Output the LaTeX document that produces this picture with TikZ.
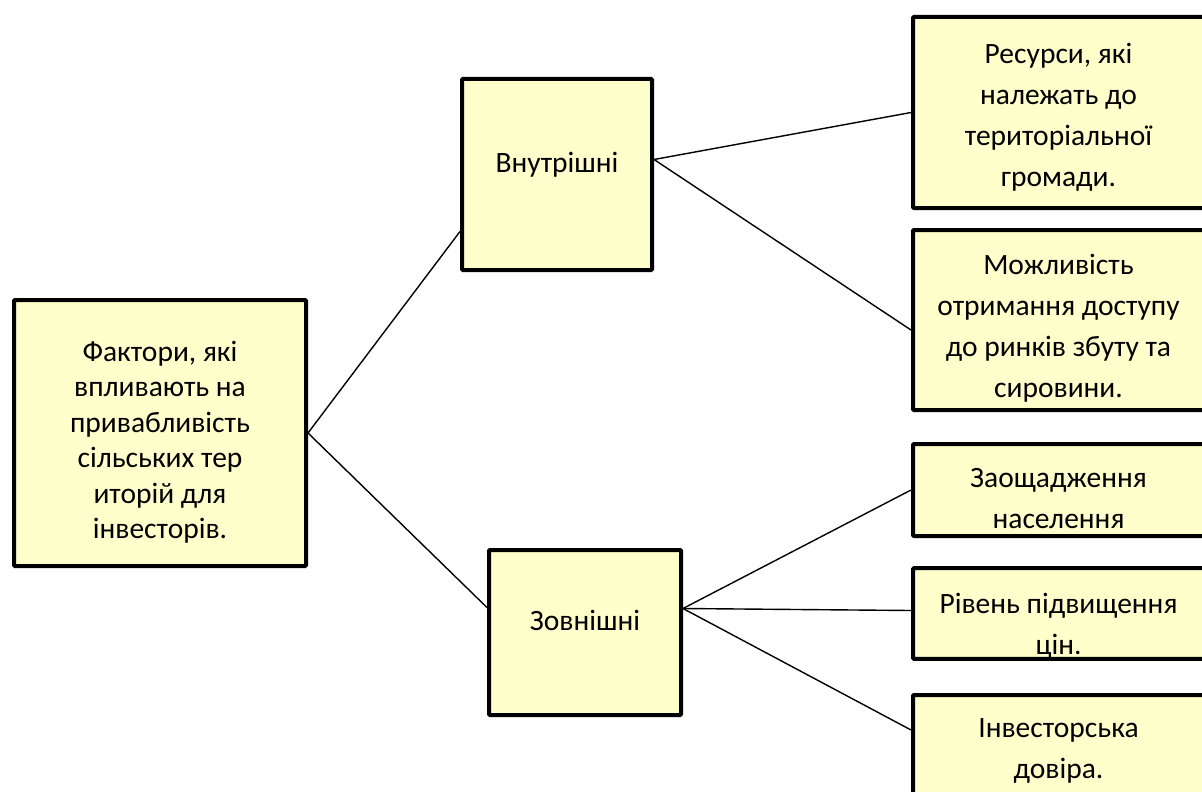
\documentclass[tikz,border=0pt]{standalone}
\usepackage{fontspec}
\setmainfont{Carlito}
\usepackage{xcolor}
\usetikzlibrary{positioning}

\definecolor{boxfill}{HTML}{FFFFCC}
\newcommand{\topgap}[1]{\rule{0pt}{#1}}

\tikzset{
    factor/.style={draw, line width=4pt, rounded corners=1pt, fill=boxfill, align=center, inner sep=0pt, font=\fontsize{29.5}{41}\selectfont},
    link/.style={line width=1.4pt}
}

\begin{document}
\begin{tikzpicture}[x=1pt, y=-1pt]
    \useasboundingbox (0,0) rectangle (1202,792);

    % Main factor
    \node[factor, minimum width=292pt, minimum height=266pt, font=\fontsize{29.5}{35.5}\selectfont] (factors) at (160,433)
        {\topgap{39pt}Фактори, які\\впливають на\\привабливість\\сільських тер\\иторій для\\інвесторів.};

    % Groups
    \node[factor, minimum width=190pt, minimum height=191pt, text depth=24pt] (internal) at (557,174.5) {Внутрішні};
    \node[factor, minimum width=192pt, minimum height=165pt, text depth=24pt] (external) at (585,632.5) {Зовнішні};

    % Internal
    \node[factor, minimum width=291pt, minimum height=191pt] (resources) at (1058.5,112.5)
        {\topgap{29pt}Ресурси, які\\належать до\\територіальної\\громади.};
    \node[factor, minimum width=291pt, minimum height=180pt] (markets) at (1058.5,320)
        {\topgap{37pt}Можливість\\отримання доступу\\до ринків збуту та\\сировини.};

    % External
    \node[factor, minimum width=291pt, minimum height=92pt] (savings) at (1058.5,490) {\topgap{37pt}Заощадження\\населення};
    \node[factor, minimum width=291pt, minimum height=89pt] (prices) at (1058.5,613.5) {\topgap{45pt}Рівень підвищення\\цін.};
    \node[factor, minimum width=291pt, minimum height=100pt] (trust) at (1058.5,745) {\topgap{31pt}Інвесторська\\довіра.};

    % Links
    \draw[link] (factors.east) -- ([yshift=-57pt]internal.west);
    \draw[link] (factors.east) -- ([yshift=25pt]external.west);
    \draw[link] ([yshift=15pt]internal.east) -- (resources.west);
    \draw[link] ([yshift=15pt]internal.east) -- ([yshift=-10pt]markets.west);
    \foreach \target/\dy in {savings/0pt, prices/3pt, trust/15pt} {
        \draw[link] ([yshift=24pt]external.east) -- ([yshift=\dy]\target.west);
    }
\end{tikzpicture}
\end{document}
